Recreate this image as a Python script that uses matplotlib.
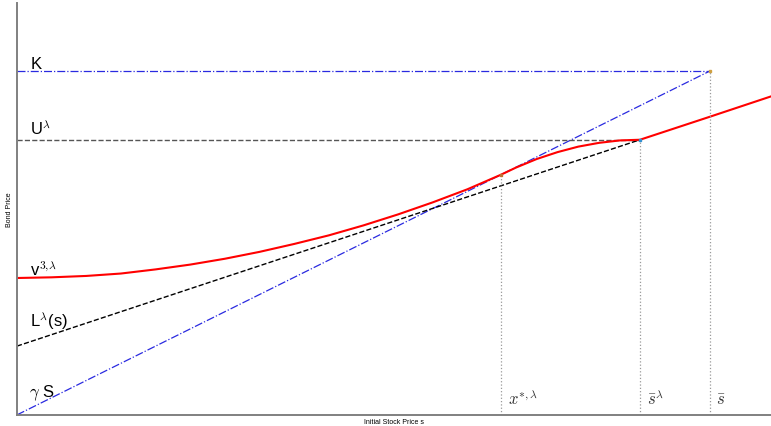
import matplotlib.pyplot as plt
import numpy as np

plt.rcParams['mathtext.fontset'] = 'cm'
plt.rcParams['font.family'] = ['Liberation Sans', 'DejaVu Sans']

# model constants (scaled units)
K = 1.0
U_lam = 0.80
L0 = 0.20
gamma = 1.0
x_star = 0.698
s_bar_lam = 0.899
s_bar = 1.0
s_max = 1.088

# bond value v^{3,lambda} at sample stock prices
v_s = [0.000, 0.050, 0.100, 0.150, 0.200, 0.250, 0.300, 0.350, 0.400, 0.450,
       0.500, 0.550, 0.600, 0.650, 0.698, 0.720, 0.750, 0.780, 0.810, 0.840,
       0.870, 0.899, 1.000, 1.088]
v_val = [0.398, 0.400, 0.404, 0.411, 0.423, 0.437, 0.454, 0.474, 0.497, 0.522,
         0.551, 0.583, 0.618, 0.656, 0.698, 0.719, 0.744, 0.764, 0.780, 0.791,
         0.798, 0.800, 0.867, 0.926]

fig = plt.figure(figsize=(7.71, 4.27), dpi=100)
ax = fig.add_axes([0.022, 0.026, 0.978, 0.965])

blue = '#2a2ae0'
# gamma S line and the level K
ax.plot([0, s_bar], [0, gamma * s_bar], color=blue, ls='-.', lw=0.9)
ax.plot([0, s_bar], [K, K], color=blue, ls='-.', lw=0.9)
# upper level U and the lower line L(s)
ax.plot([0, s_bar_lam], [U_lam, U_lam], color='#555555', ls='--', lw=1.0)
ax.plot([0, s_bar_lam], [L0, U_lam], color='black', ls='--', lw=1.0)
# bond price
ax.plot(v_s, v_val, color='red', lw=1.5)

# vertical guides down to the axis
for xv, yv in [(x_star, x_star * gamma), (s_bar_lam, U_lam), (s_bar, K)]:
    ax.plot([xv, xv], [0, yv], color='#999999', ls=':', lw=0.9)
ax.plot([x_star], [x_star * gamma], 's', color='#c07030', ms=2)
ax.plot([s_bar_lam], [U_lam], 's', color='#3090d0', ms=2)
ax.plot([s_bar], [K], 's', color='#d0a040', ms=2)

fs = 12
ax.text(0.019, K + 0.008, 'K', fontsize=fs, va='baseline')
ax.text(0.019, U_lam + 0.018, r'U$^\lambda$', fontsize=fs, va='baseline')
ax.text(0.019, 0.407, r'v$^{\mathsf{3},\!\lambda}$', fontsize=fs, va='baseline')
ax.text(0.019, 0.259, r'L$^\lambda$(s)', fontsize=fs, va='baseline')
ax.text(0.017, 0.055, r'$\gamma$ S', fontsize=fs, va='baseline')

gray = '#333333'
ax.text(x_star + 0.010, 0.032, r'$x^{*,\lambda}$', fontsize=12, color=gray)
ax.text(s_bar_lam + 0.010, 0.032, r'$\bar{s}^{\lambda}$', fontsize=12, color=gray)
ax.text(s_bar + 0.009, 0.032, r'$\bar{s}$', fontsize=12, color=gray)

ax.set_xlim(0, s_max)
ax.set_ylim(0, 1.198)
ax.set_xticks([])
ax.set_yticks([])
for side in ['top', 'right']:
    ax.spines[side].set_visible(False)
for side in ['left', 'bottom']:
    ax.spines[side].set_color('#808080')
    ax.spines[side].set_linewidth(1.4)
ax.set_xlabel('Initial Stock Price s', fontsize=5, labelpad=2)
ax.set_ylabel('Bond Price', fontsize=5, labelpad=3)

fig.savefig('out.png', dpi=100)
